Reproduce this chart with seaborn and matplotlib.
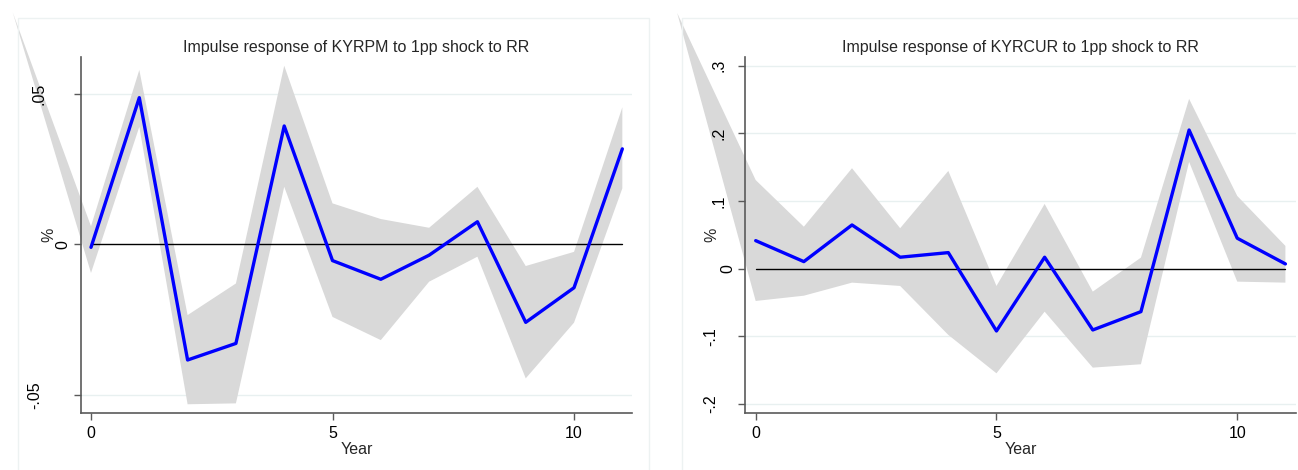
import matplotlib
matplotlib.use("Agg")
import matplotlib.pyplot as plt
import numpy as np
import pandas as pd
import seaborn as sns
from matplotlib.patches import Rectangle

# ---- data -------------------------------------------------------------
years = list(range(12))

kyrpm_irf = [-0.001, 0.0487, -0.0384, -0.0329, 0.0393, -0.0054,
             -0.0116, -0.0036, 0.0075, -0.0259, -0.0144, 0.0317]
kyrpm_upper = [0.006, 0.0579, -0.0235, -0.0130, 0.0593, 0.0136,
               0.0084, 0.0055, 0.0191, -0.0072, -0.0025, 0.0455]
kyrpm_lower = [-0.0095, 0.039, -0.0531, -0.0528, 0.0191, -0.0241,
               -0.0318, -0.0124, -0.0041, -0.0445, -0.0260, 0.0186]
kyrpm_band_start = (-1.62, 0.077)

kyrcur_irf = [0.0414, 0.0104, 0.0646, 0.0169, 0.0237, -0.0922,
              0.0169, -0.0907, -0.0636, 0.205, 0.045, 0.007]
kyrcur_upper = [0.131, 0.062, 0.1485, 0.0598, 0.1445, -0.0256,
                0.0957, -0.034, 0.0163, 0.251, 0.1075, 0.0336]
kyrcur_lower = [-0.0478, -0.040, -0.0207, -0.0256, -0.098, -0.1548,
                -0.0636, -0.1464, -0.1414, 0.158, -0.0192, -0.0207]
kyrcur_band_start = (-1.63, 0.378)

xticks = [0, 5, 10]
kyrpm_yticks = [-0.05, 0, 0.05]
kyrpm_yticklabels = ["-.05", "0", ".05"]
kyrcur_yticks = [-0.2, -0.1, 0, 0.1, 0.2, 0.3]
kyrcur_yticklabels = ["-.2", "-.1", "0", ".1", ".2", ".3"]

titles = ["Impulse response of KYRPM to 1pp shock to RR",
          "Impulse response of KYRCUR to 1pp shock to RR"]

# ---- style ------------------------------------------------------------
sns.set_theme(style="white")
plt.rcParams["font.family"] = ["Liberation Sans", "DejaVu Sans"]

W, H = 1298, 470
fig = plt.figure(figsize=(W / 100, H / 100), dpi=100)
fig.patch.set_facecolor("white")

FS = 11.5
BAND = "#d9d9d9"
AXCOL = "#5a5a5a"
GRID = "#e8f0f0"

panels = [
    dict(irf=kyrpm_irf, upper=kyrpm_upper, lower=kyrpm_lower,
         start=kyrpm_band_start, yticks=kyrpm_yticks,
         ylabels=kyrpm_yticklabels, title=titles[0],
         rect=[81 / W, 57 / H, 551 / W, 356 / H],
         xlim=(-0.207, 11.2), ylim=(-0.056, 0.0622),
         pads={"-.05": 22.6, "0": 2.6, ".05": 19.8},
         ylab_x=-0.045, frame=(18, 649)),
    dict(irf=kyrcur_irf, upper=kyrcur_upper, lower=kyrcur_lower,
         start=kyrcur_band_start, yticks=kyrcur_yticks,
         ylabels=kyrcur_yticklabels, title=titles[1],
         rect=[745 / W, 57 / H, 551 / W, 356 / H],
         xlim=(-0.222, 11.22), ylim=(-0.2135, 0.313),
         pads={"-.2": 14.2, "-.1": 14.2, "0": 2.0, ".1": 8.2,
               ".2": 8.2, ".3": 8.2},
         ylab_x=-0.047, frame=(682, 1310)),
]

for p in panels:
    # faint border of each panel's graph region
    x0, x1 = p["frame"]
    fig.add_artist(Rectangle((x0 / W, -0.1), (x1 - x0) / W, 1.1 - 18 / H,
                             transform=fig.transFigure, fill=False,
                             edgecolor="#edf2f2", lw=1.0))

    l, t, w, h = p["rect"]
    ax = fig.add_axes([l, 1 - t - h, w, h])
    ax.set_facecolor("white")

    df = pd.DataFrame({"Year": years, "irf": p["irf"],
                       "upper": p["upper"], "lower": p["lower"]})

    # light grid at the labelled ticks
    for yt in p["yticks"]:
        if yt != 0:
            ax.axhline(yt, color=GRID, lw=1.0, zorder=0)

    # confidence band
    bx = [p["start"][0]] + years + years[::-1]
    by = [p["start"][1]] + list(df["upper"]) + list(df["lower"])[::-1]
    ax.fill(bx, by, color=BAND, lw=0, zorder=1, clip_on=False)

    # zero reference
    ax.plot([years[0], years[-1]], [0, 0], color="black", lw=1.0, zorder=2)

    # impulse response
    sns.lineplot(data=df, x="Year", y="irf", ax=ax, color="#0000ff",
                 lw=2.4, zorder=3)

    ax.set_xlim(*p["xlim"])
    ax.set_ylim(*p["ylim"])
    ax.set_axisbelow(False)

    ax.set_xticks(xticks)
    ax.set_xticklabels([str(v) for v in xticks])
    ax.set_yticks(p["yticks"])
    ax.set_yticklabels(p["ylabels"])
    ax.tick_params(axis="both", which="major", direction="out", length=5,
                   width=1.0, color=AXCOL, labelsize=FS, labelcolor="black",
                   left=True, bottom=True)
    ax.tick_params(axis="x", pad=4.5)
    ax.tick_params(axis="y", labelrotation=90)
    for tick, lab in zip(ax.yaxis.get_major_ticks(), p["ylabels"]):
        tick.set_pad(p["pads"][lab])
    for lab in ax.get_yticklabels():
        lab.set_verticalalignment("center")

    for side in ["top", "right"]:
        ax.spines[side].set_visible(False)
    for side in ["left", "bottom"]:
        ax.spines[side].set_color(AXCOL)
        ax.spines[side].set_linewidth(1.2)

    ax.set_xlabel("Year", fontsize=FS, labelpad=0.5)
    ax.set_ylabel("%", fontsize=FS)
    ax.yaxis.set_label_coords(p["ylab_x"], 0.5)
    ax.set_title(p["title"], fontsize=FS, pad=3.6)
    ax.grid(False)

fig.savefig("out.png", dpi=100, facecolor="white")
